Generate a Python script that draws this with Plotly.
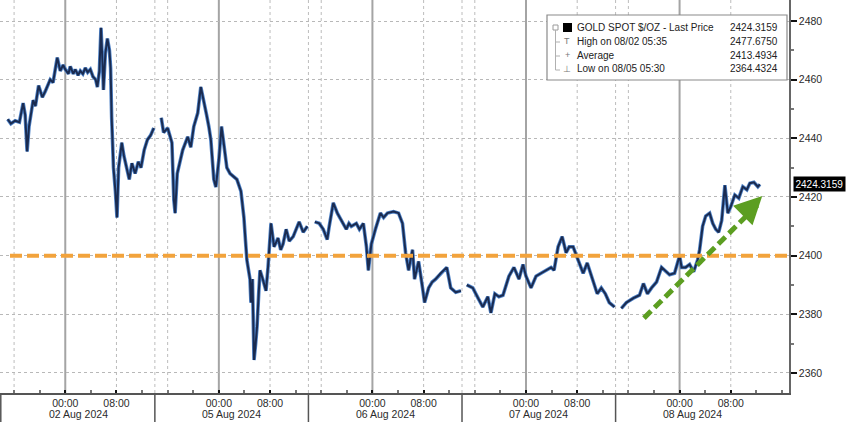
import plotly.graph_objects as go

# ---------------- data ----------------
times = [
    "2024-08-01 15:00", "2024-08-01 15:30", "2024-08-01 16:10", "2024-08-01 16:50", "2024-08-01 17:25",
    "2024-08-01 17:44", "2024-08-01 18:02", "2024-08-01 18:20", "2024-08-01 18:59", "2024-08-01 19:20",
    "2024-08-01 19:50", "2024-08-01 20:25", "2024-08-01 20:52", "2024-08-01 21:39", "2024-08-01 22:05",
    "2024-08-01 22:45", "2024-08-01 23:13", "2024-08-01 23:40",
    "2024-08-02 00:00", "2024-08-02 00:30", "2024-08-02 00:47", "2024-08-02 01:15", "2024-08-02 01:34",
    "2024-08-02 02:00", "2024-08-02 02:21", "2024-08-02 02:45", "2024-08-02 03:08", "2024-08-02 03:30",
    "2024-08-02 03:55", "2024-08-02 04:20", "2024-08-02 04:45", "2024-08-02 05:01", "2024-08-02 05:20",
    "2024-08-02 05:35", "2024-08-02 05:50", "2024-08-02 05:58", "2024-08-02 06:16", "2024-08-02 06:35",
    "2024-08-02 06:54", "2024-08-02 07:05", "2024-08-02 07:15", "2024-08-02 07:32", "2024-08-02 07:50",
    "2024-08-02 08:05", "2024-08-02 08:20", "2024-08-02 08:35", "2024-08-02 08:50", "2024-08-02 09:10",
    "2024-08-02 09:35", "2024-08-02 10:00", "2024-08-02 10:25", "2024-08-02 10:55", "2024-08-02 11:25",
    "2024-08-02 11:50", "2024-08-02 12:20", "2024-08-02 12:50", "2024-08-02 13:20", "2024-08-02 13:50",
    "2024-08-04 14:30",
    "2024-08-04 15:00", "2024-08-04 15:22", "2024-08-04 16:00", "2024-08-04 16:40", "2024-08-04 16:58",
    "2024-08-04 17:10", "2024-08-04 17:30", "2024-08-04 18:00", "2024-08-04 18:21", "2024-08-04 19:08",
    "2024-08-04 19:37", "2024-08-04 20:05", "2024-08-04 20:42", "2024-08-04 21:11", "2024-08-04 21:39",
    "2024-08-04 22:05", "2024-08-04 22:26", "2024-08-04 22:45", "2024-08-04 23:13", "2024-08-04 23:32",
    "2024-08-05 00:00", "2024-08-05 00:25", "2024-08-05 00:45", "2024-08-05 01:15", "2024-08-05 01:45",
    "2024-08-05 02:15", "2024-08-05 02:49", "2024-08-05 03:27", "2024-08-05 03:55", "2024-08-05 04:10",
    "2024-08-05 04:23", "2024-08-05 04:52", "2024-08-05 05:01", "2024-08-05 05:15", "2024-08-05 05:30",
    "2024-08-05 05:45", "2024-08-05 05:58", "2024-08-05 06:15", "2024-08-05 06:26", "2024-08-05 06:54",
    "2024-08-05 07:22", "2024-08-05 07:41", "2024-08-05 07:55", "2024-08-05 08:09", "2024-08-05 08:38",
    "2024-08-05 09:15", "2024-08-05 09:40", "2024-08-05 10:02", "2024-08-05 10:31", "2024-08-05 11:00",
    "2024-08-05 11:37", "2024-08-05 12:05", "2024-08-05 12:33", "2024-08-05 13:11", "2024-08-05 13:50",
    "2024-08-05 14:30",
    "2024-08-05 15:00", "2024-08-05 15:41", "2024-08-05 16:19", "2024-08-05 16:56", "2024-08-05 17:15",
    "2024-08-05 17:34", "2024-08-05 17:53", "2024-08-05 18:31", "2024-08-05 19:08", "2024-08-05 19:55",
    "2024-08-05 20:20", "2024-08-05 20:42", "2024-08-05 21:29", "2024-08-05 21:58", "2024-08-05 22:35",
    "2024-08-05 23:04", "2024-08-05 23:22", "2024-08-05 23:50",
    "2024-08-06 00:28", "2024-08-06 01:15", "2024-08-06 01:45", "2024-08-06 02:21", "2024-08-06 03:18",
    "2024-08-06 04:05", "2024-08-06 04:42", "2024-08-06 05:11", "2024-08-06 05:39", "2024-08-06 06:16",
    "2024-08-06 06:35", "2024-08-06 07:13", "2024-08-06 07:50", "2024-08-06 08:09", "2024-08-06 08:47",
    "2024-08-06 09:20", "2024-08-06 09:53", "2024-08-06 10:40", "2024-08-06 11:37", "2024-08-06 12:14",
    "2024-08-06 13:01", "2024-08-06 13:50",
    "2024-08-06 14:20",
    "2024-08-06 14:45", "2024-08-06 15:41", "2024-08-06 16:38", "2024-08-06 17:15", "2024-08-06 18:02",
    "2024-08-06 18:31", "2024-08-06 19:08", "2024-08-06 19:46", "2024-08-06 20:24", "2024-08-06 21:20",
    "2024-08-06 22:07", "2024-08-06 22:54", "2024-08-06 23:32",
    "2024-08-07 00:00", "2024-08-07 00:47", "2024-08-07 01:34", "2024-08-07 02:21", "2024-08-07 03:08",
    "2024-08-07 03:55", "2024-08-07 04:23", "2024-08-07 05:01", "2024-08-07 05:39", "2024-08-07 06:16",
    "2024-08-07 06:45", "2024-08-07 07:22", "2024-08-07 08:09", "2024-08-07 08:56", "2024-08-07 09:34",
    "2024-08-07 10:12", "2024-08-07 11:08", "2024-08-07 11:46", "2024-08-07 12:24", "2024-08-07 13:01",
    "2024-08-07 13:50",
    "2024-08-07 14:25",
    "2024-08-07 14:54", "2024-08-07 15:41", "2024-08-07 16:47", "2024-08-07 17:44", "2024-08-07 18:21",
    "2024-08-07 18:59", "2024-08-07 19:37", "2024-08-07 20:24", "2024-08-07 21:11", "2024-08-07 21:58",
    "2024-08-07 22:26", "2024-08-07 23:13", "2024-08-07 23:50",
    "2024-08-08 00:00", "2024-08-08 00:19", "2024-08-08 00:56", "2024-08-08 01:34", "2024-08-08 02:12",
    "2024-08-08 02:49", "2024-08-08 03:08", "2024-08-08 03:36", "2024-08-08 04:05", "2024-08-08 04:42",
    "2024-08-08 05:11", "2024-08-08 05:39", "2024-08-08 06:07", "2024-08-08 06:35", "2024-08-08 07:05",
    "2024-08-08 07:32", "2024-08-08 08:00", "2024-08-08 08:38", "2024-08-08 09:15", "2024-08-08 09:53",
    "2024-08-08 10:31", "2024-08-08 10:59", "2024-08-08 11:37", "2024-08-08 12:14", "2024-08-08 12:33",
]
prices = [
    2446.5, 2445, 2446, 2445.5, 2452,
    2448, 2435.5, 2444, 2453, 2451,
    2458, 2454, 2456, 2460, 2459,
    2467.5, 2463, 2465,
    2463.5, 2462, 2464.5, 2462, 2463.5,
    2461.5, 2463, 2462, 2464, 2462.5,
    2463.5, 2461, 2460, 2457.5, 2463,
    2477.675, 2465, 2456.5, 2469, 2474,
    2470, 2464, 2447, 2430, 2422,
    2413, 2430, 2435, 2438.5, 2434,
    2430, 2426, 2431.5, 2428, 2432,
    2430, 2436, 2439.5, 2441, 2443.5,
    None,
    2447, 2442, 2443.5, 2438.5, 2419,
    2414.5, 2428, 2433, 2436, 2440.5,
    2437, 2444, 2448.6, 2457.5, 2453,
    2448, 2444, 2439.5, 2426, 2423.4,
    2432.6, 2444, 2438.5, 2430, 2428,
    2427, 2426, 2422, 2413, 2405,
    2398.5, 2392, 2384, 2392, 2364.4324,
    2370, 2375.7, 2388, 2395, 2391.7,
    2388, 2396, 2405, 2411, 2403,
    2406, 2402, 2404, 2409, 2405,
    2406.5, 2409, 2411.5, 2408, 2410,
    None,
    2411.5, 2411, 2409, 2405.5, 2410,
    2414.5, 2418, 2414.5, 2412, 2409,
    2411, 2410, 2411, 2409, 2411,
    2403, 2395, 2404,
    2409, 2414.5, 2413, 2414.5, 2415,
    2414.5, 2411, 2401, 2395, 2402,
    2392, 2398, 2389, 2384, 2389,
    2391, 2392, 2394, 2396, 2389,
    2387.5, 2388,
    None,
    2390, 2389, 2385, 2382.5, 2386,
    2380.5, 2387, 2386, 2386.5, 2393,
    2396, 2392, 2397,
    2393, 2389, 2393, 2394, 2395,
    2396, 2395, 2403, 2406.5, 2401,
    2403, 2403, 2398.5, 2394, 2397.5,
    2393, 2387, 2389, 2387, 2384,
    2382.5,
    None,
    2382, 2384, 2385.5, 2386.5, 2390.5,
    2387, 2389, 2391, 2396, 2394.5,
    2393.5, 2394, 2398.5,
    2400, 2396, 2396, 2397, 2394.5,
    2398.5, 2402, 2410, 2413.5, 2414.5,
    2411, 2409, 2408, 2412, 2424,
    2414.5, 2416.7, 2420.7, 2419.6, 2423.5,
    2422.5, 2424.7, 2425, 2423.5, 2424.3159,
]

series_name = "GOLD SPOT $/OZ - Last Price"
last_price = 2424.3159
high_label, high_price = "High on 08/02 05:35", 2477.6750
avg_label, avg_price = "Average", 2413.4934
low_label, low_price = "Low on 08/05 05:30", 2364.4324
ref_level = 2400
trend_x = ["2024-08-07 18:26", "2024-08-08 12:30"]
trend_y = [2378.7, 2418.0]
trend_tip = ("2024-08-08 12:55", 2420.3)

y_ticks = [2360, 2380, 2400, 2420, 2440, 2460, 2480]
day_dates = ["2024-08-02", "2024-08-05", "2024-08-06", "2024-08-07", "2024-08-08"]
day_labels = ["02 Aug 2024", "05 Aug 2024", "06 Aug 2024", "07 Aug 2024", "08 Aug 2024"]
hour_ticks = ["00:00", "08:00"]
session_breaks = ["2024-08-04 14:00", "2024-08-05 14:00", "2024-08-06 14:00", "2024-08-07 14:00"]
sixteen_lines = ["2024-08-01 16:00", "2024-08-04 16:00", "2024-08-05 16:00", "2024-08-06 16:00", "2024-08-07 16:00"]

# ---------------- layout geometry ----------------
W, H = 848, 422
ML, MR, MT, MB = 0, 59, 0, 29
PW, PH = W - ML - MR, H - MT - MB


def px(x):
    return x / PW


def py(y):
    return 1 - y / PH


FONT = "Liberation Sans, Arial, sans-serif"
TXT = "#2b2b2b"

fig = go.Figure()
fig.add_trace(go.Scatter(x=times, y=prices, mode="lines", connectgaps=False,
                         line=dict(color="#4f83c8", width=3.6), hoverinfo="skip", showlegend=False))
fig.add_trace(go.Scatter(x=times, y=prices, mode="lines", connectgaps=False,
                         line=dict(color="#1a2b50", width=2.0), showlegend=False))

shapes = []
# vertical grid: solid at midnight, dotted at 08:00 / 14:00 / 16:00
for d in day_dates:
    shapes.append(dict(type="line", xref="x", yref="paper", x0=d + " 00:00", x1=d + " 00:00", y0=0, y1=1,
                       line=dict(color="#a4a4a4", width=2), layer="below"))
    shapes.append(dict(type="line", xref="x", yref="paper", x0=d + " 08:00", x1=d + " 08:00", y0=0, y1=1,
                       line=dict(color="#bcbcbc", width=1, dash="dot"), layer="below"))
for t in session_breaks + sixteen_lines:
    shapes.append(dict(type="line", xref="x", yref="paper", x0=t, x1=t, y0=0, y1=1,
                       line=dict(color="#bcbcbc", width=1, dash="dot"), layer="below"))
# date separators under the axis
for t in session_breaks:
    shapes.append(dict(type="line", xref="x", yref="paper", x0=t, x1=t, y0=0, y1=-0.08,
                       line=dict(color="#555555", width=1.5)))
shapes.append(dict(type="line", xref="paper", yref="paper", x0=0.001, x1=0.001, y0=0, y1=-0.08,
                   line=dict(color="#555555", width=1.5)))
# orange 2400 reference line
shapes.append(dict(type="line", xref="paper", yref="y", x0=px(10), x1=1, y0=ref_level, y1=ref_level,
                   line=dict(color="#f2a33c", width=4, dash="12px,5px")))
# green trend arrow shaft
shapes.append(dict(type="line", xref="x", yref="y", x0=trend_x[0], x1=trend_x[1], y0=trend_y[0], y1=trend_y[1],
                   line=dict(color="#5c9e21", width=5, dash="10px,5px")))
# legend box
shapes.append(dict(type="rect", xref="paper", yref="paper", x0=px(547), x1=px(787), y0=py(80), y1=py(15),
                   line=dict(color="#8a8a8a", width=1.2), fillcolor="white"))
shapes.append(dict(type="rect", xref="paper", yref="paper", x0=px(563), x1=px(572), y0=py(32), y1=py(23),
                   line=dict(color="black", width=0), fillcolor="black"))
shapes.append(dict(type="rect", xref="paper", yref="paper", x0=px(553), x1=px(558), y0=py(30), y1=py(25),
                   line=dict(color="#9a9a9a", width=1), fillcolor="white"))
shapes.append(dict(type="line", xref="paper", yref="paper", x0=px(555.5), x1=px(555.5), y0=py(70), y1=py(30),
                   line=dict(color="#b0b0b0", width=1)))
for ry in (42, 56, 70):
    shapes.append(dict(type="line", xref="paper", yref="paper", x0=px(555.5), x1=px(560), y0=py(ry), y1=py(ry),
                       line=dict(color="#b0b0b0", width=1)))

annotations = []
# date labels under the hour ticks
for d, lab in zip(day_dates, day_labels):
    annotations.append(dict(x=d + " 02:00", xref="x", y=py(414), yref="paper", text=lab, showarrow=False,
                            font=dict(family=FONT, size=10.5, color=TXT), xanchor="center", yanchor="middle"))
# legend rows
rows = [(series_name, last_price), (high_label, high_price), (avg_label, avg_price), (low_label, low_price)]
row_y = [27.5, 41.5, 55.5, 69]
for (lab, val), ry in zip(rows, row_y):
    annotations.append(dict(x=px(575), y=py(ry), xref="paper", yref="paper", text=lab, showarrow=False,
                            xanchor="left", yanchor="middle", font=dict(family=FONT, size=10, color="#222")))
    annotations.append(dict(x=px(780), y=py(ry), xref="paper", yref="paper", text=f"{val:.4f}", showarrow=False,
                            xanchor="right", yanchor="middle", font=dict(family=FONT, size=10, color="#222")))
for sym, ry in zip(["T", "+", "\u22a5"], row_y[1:]):
    annotations.append(dict(x=px(567), y=py(ry), xref="paper", yref="paper", text=sym, showarrow=False,
                            xanchor="center", yanchor="middle", font=dict(family=FONT, size=9, color="#777")))
# last price tag
annotations.append(dict(x=1, xref="paper", y=last_price, yref="y", text=f"{last_price:.4f}", showarrow=False,
                        xanchor="left", yanchor="middle", xshift=4, bgcolor="black", borderpad=1.5,
                        font=dict(family=FONT, size=10, color="white")))
# green arrow head
annotations.append(dict(x=trend_tip[0], y=trend_tip[1], xref="x", yref="y", text="", showarrow=True,
                        ax=-9, ay=9, arrowhead=2, arrowsize=1.1, arrowwidth=5, arrowcolor="#5c9e21", standoff=0))

tickvals, ticktext = [], []
for d in day_dates:
    for h in hour_ticks:
        tickvals.append(f"{d} {h}")
        ticktext.append(h)

fig.update_layout(
    width=W, height=H, margin=dict(l=ML, r=MR, t=MT, b=MB),
    paper_bgcolor="white", plot_bgcolor="white",
    shapes=shapes, annotations=annotations, showlegend=False,
    font=dict(family=FONT, color=TXT),
    xaxis=dict(
        type="date", range=["2024-08-01 13:48", "2024-08-08 17:06"],
        rangebreaks=[dict(bounds=["2024-08-02 14:00", "2024-08-04 14:00"])],
        tickmode="array", tickvals=tickvals, ticktext=ticktext,
        ticks="inside", ticklen=3, tickwidth=2, tickcolor="#111",
        showline=True, linecolor="#555555", linewidth=1.5, showgrid=False, zeroline=False,
        tickfont=dict(family=FONT, size=10.5, color=TXT),
        minor=dict(tickmode="linear", tick0="2024-08-01 00:00", dtick=4 * 3600 * 1000,
                   ticks="inside", ticklen=3, tickcolor="#777", showgrid=False),
    ),
    yaxis=dict(
        side="right", range=[2353.17, 2487.16], tickmode="array", tickvals=y_ticks,
        ticks="outside", ticklen=6, tickwidth=2, tickcolor="#111",
        showline=True, linecolor="#666666", linewidth=1.5,
        showgrid=True, gridcolor="#b8b8b8", griddash="dot", gridwidth=1, zeroline=False,
        tickfont=dict(family=FONT, size=10.5, color=TXT),
        minor=dict(tickmode="linear", tick0=2350, dtick=10, ticks="outside", ticklen=3,
                   tickcolor="#777", showgrid=False),
    ),
)

fig.write_html("out.html", config={"displayModeBar": False},
               post_script="document.body.style.margin='0px';")
